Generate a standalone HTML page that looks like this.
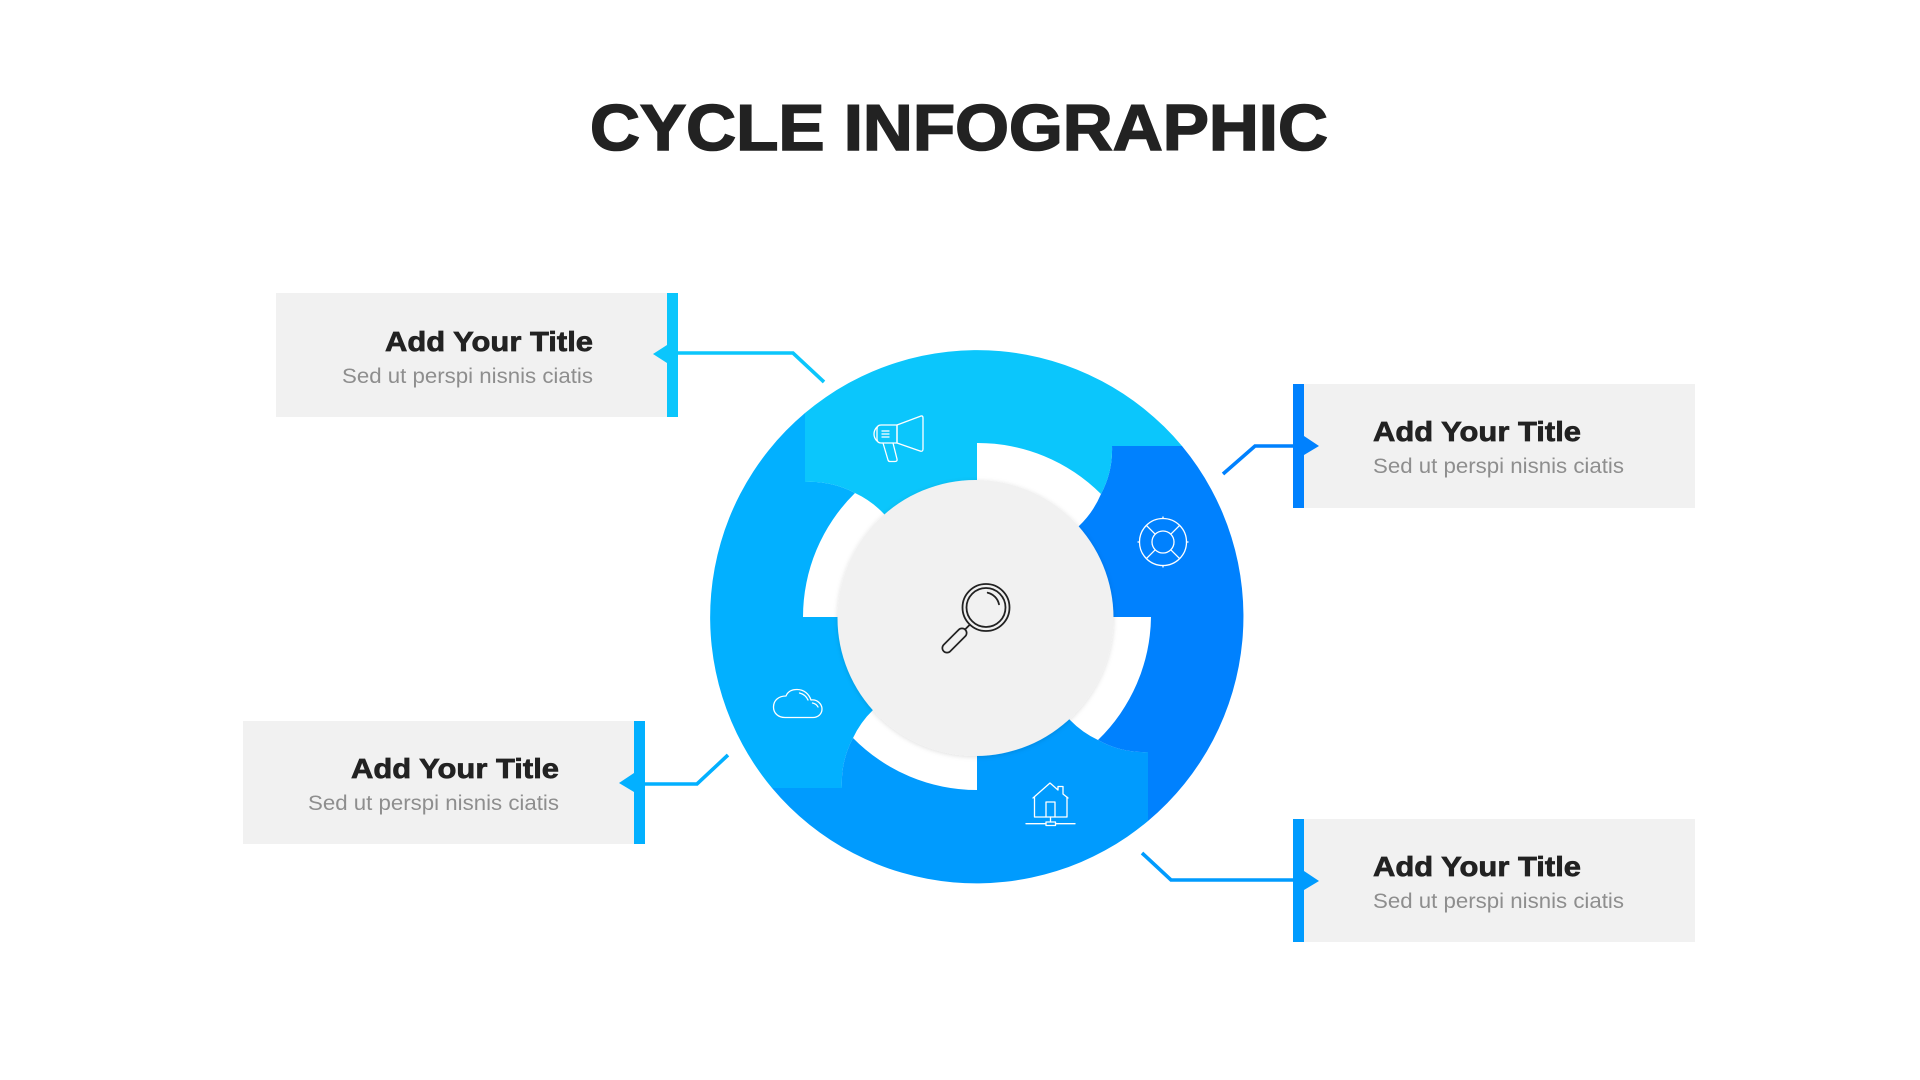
<!DOCTYPE html>
<html lang="en">
<head>
<meta charset="utf-8">
<title>Cycle Infographic</title>
<style>
html,body{margin:0;padding:0;background:#fff}
svg{display:block}
text{font-family:"Liberation Sans",sans-serif}
.t{font-size:28px;font-weight:bold;fill:#222;stroke:#222;stroke-width:.7px}
.s{font-size:21px;fill:#8e8e8e}
.ic{fill:none;stroke:#fff;stroke-width:1.3;stroke-linejoin:round;stroke-linecap:round}
.ln{fill:none;stroke-width:3.6}
</style>
</head>
<body>
<svg width="1920" height="1080" viewBox="0 0 1920 1080" xmlns="http://www.w3.org/2000/svg">
<defs>
<filter id="sh" x="-10%" y="-10%" width="120%" height="120%">
<feDropShadow dx="0" dy="1" stdDeviation="2.5" flood-color="#000" flood-opacity=".13"/>
</filter>
</defs>
<rect width="1920" height="1080" fill="#fff"/>

<text x="590" y="150" fill="#222" stroke="#222" stroke-width="1.6" textLength="738" lengthAdjust="spacingAndGlyphs" style="font-size:65px;font-weight:bold">CYCLE INFOGRAPHIC</text>

<!-- ring segments -->
<path fill="#02b0ff" d="M772,788 A267,267 0 0 1 805,413 L805,482 A95,95 0 0 1 855,493 A174,174 0 0 0 803,617 L900,617 L900,680 L873,710 A95,95 0 0 0 853,738 A95,95 0 0 0 842,788 Z"/>
<path fill="#009bfe" d="M1148,821 A267,267 0 0 1 772,788 L842,788 A95,95 0 0 1 853,738 A174,174 0 0 0 977,790 L977,700 L1050,700 L1070,720 A95,95 0 0 0 1098,740 A95,95 0 0 0 1148,752 Z"/>
<path fill="#0081fe" d="M1182,446 A267,267 0 0 1 1148,821 L1148,752 A95,95 0 0 1 1098,740 A174,174 0 0 0 1151,617 L1040,617 L1040,560 L1079,526 A95,95 0 0 0 1101,494 A95,95 0 0 0 1112,446 Z"/>
<path fill="#0bc6fc" d="M805,413 A267,267 0 0 1 1182,446 L1112,446 A95,95 0 0 1 1101,494 A174,174 0 0 0 977,443 L977,540 L900,540 L884,514 A95,95 0 0 0 855,493 A95,95 0 0 0 805,482 Z"/>

<!-- centre -->
<circle cx="975.500" cy="618" r="138" fill="#f1f1f1" filter="url(#sh)"/>

<!-- magnifier -->
<g fill="none" stroke="#222" stroke-linecap="round">
<circle cx="986" cy="607.500" r="23.500" stroke-width="1.8"/>
<circle cx="986" cy="607.500" r="19.500" stroke-width="1.8"/>
<path d="M987.700,592.700 A15,15 0 0 1 999,604.300" stroke-width="1.8"/>
<path d="M969.500,625 L964,630.500" stroke-width="1.8"/>
<path d="M962,633 L947,648" stroke-width="11"/>
<path d="M962,633 L947,648" stroke-width="7.600" stroke="#f1f1f1"/>
</g>

<!-- megaphone -->
<g class="ic">
<path d="M897,425 L921,416 Q923,415.500 923,418 L923,449 Q923,452 920,451 L897,443 Z"/>
<path d="M897,425 L881,425 Q877,425 877,429 L877,439 Q877,443 881,443 L897,443 Z"/>
<path d="M877,427 Q874,430 874,434 Q874,438 877,441"/>
<path d="M882,431 H889 M882,434 H889 M882,437 H889"/>
<path d="M883,443 L888,460 Q888.500,461.500 890,461.500 L895,461.500 Q897.500,461.500 897,459 L893,443"/>
</g>

<!-- lifebuoy -->
<g class="ic">
<circle cx="1163" cy="542" r="23.500"/>
<circle cx="1163" cy="542" r="11"/>
<path d="M1155.200,534.200 L1146.400,525.400 M1170.800,534.200 L1179.600,525.400 M1155.200,549.800 L1146.400,558.600 M1170.800,549.800 L1179.600,558.600"/>
<path d="M1163,517 V518.500 M1163,565.500 V567 M1138,542 H1139.500 M1186.500,542 H1188"/>
</g>

<!-- cloud -->
<g class="ic">
<path d="M785,717.500 C778,717.500 773.500,713 773.500,707 C773.500,700 779,696 786,696 C788,691 792,689.500 797,689.500 C804,689.500 809,694 811,700 C817,699 822,704 822,709 C822,714 818,717.500 813,717.500 Z"/>
<path d="M799.500,693 C803.500,694 806.500,696.500 808,700 M812.500,703 C815,703.500 817,705 818,707"/>
</g>

<!-- house -->
<g class="ic">
<path d="M1033,798 L1050,783 L1058,790 L1058,786.500 L1063,786.500 L1063,794 L1068,798"/>
<path d="M1034.500,797 V817 H1067 V797"/>
<path d="M1046,817 V802 H1055 V817"/>
<path d="M1050.500,817 V822"/>
<rect x="1046" y="822" width="9.500" height="3.500"/>
<path d="M1026,823.700 H1046 M1055.500,823.700 H1075"/>
</g>

<!-- top-left callout -->
<rect x="276" y="293" width="391" height="124" fill="#f1f1f1"/>
<rect x="667" y="293" width="11" height="124" fill="#0bc6fc"/>
<path d="M653,354 L667,345 L667,363 Z" fill="#0bc6fc"/>
<path class="ln" stroke="#0bc6fc" d="M678,353 H793 L824,382"/>
<text class="t" x="385" y="351" textLength="208" lengthAdjust="spacingAndGlyphs">Add Your Title</text>
<text class="s" x="342" y="383" textLength="251" lengthAdjust="spacingAndGlyphs">Sed ut perspi nisnis ciatis</text>

<!-- bottom-left callout -->
<rect x="243" y="721" width="391" height="123" fill="#f1f1f1"/>
<rect x="634" y="721" width="11" height="123" fill="#02b0ff"/>
<path d="M619,783 L634,773 L634,792 Z" fill="#02b0ff"/>
<path class="ln" stroke="#02b0ff" d="M645,784 H697 L728,755"/>
<text class="t" x="351" y="778" textLength="208" lengthAdjust="spacingAndGlyphs">Add Your Title</text>
<text class="s" x="308" y="810" textLength="251" lengthAdjust="spacingAndGlyphs">Sed ut perspi nisnis ciatis</text>

<!-- top-right callout -->
<rect x="1304" y="384" width="391" height="124" fill="#f1f1f1"/>
<rect x="1293" y="384" width="11" height="124" fill="#0081fe"/>
<path d="M1319,446 L1304,436 L1304,455 Z" fill="#0081fe"/>
<path class="ln" stroke="#0081fe" d="M1293,446 H1255 L1223,474"/>
<text class="t" x="1373" y="441" textLength="208" lengthAdjust="spacingAndGlyphs">Add Your Title</text>
<text class="s" x="1373" y="473" textLength="251" lengthAdjust="spacingAndGlyphs">Sed ut perspi nisnis ciatis</text>

<!-- bottom-right callout -->
<rect x="1304" y="819" width="391" height="123" fill="#f1f1f1"/>
<rect x="1293" y="819" width="11" height="123" fill="#009bfe"/>
<path d="M1319,881 L1304,871 L1304,890 Z" fill="#009bfe"/>
<path class="ln" stroke="#009bfe" d="M1293,880 H1171 L1142,853"/>
<text class="t" x="1373" y="876" textLength="208" lengthAdjust="spacingAndGlyphs">Add Your Title</text>
<text class="s" x="1373" y="908" textLength="251" lengthAdjust="spacingAndGlyphs">Sed ut perspi nisnis ciatis</text>
</svg>
</body>
</html>
